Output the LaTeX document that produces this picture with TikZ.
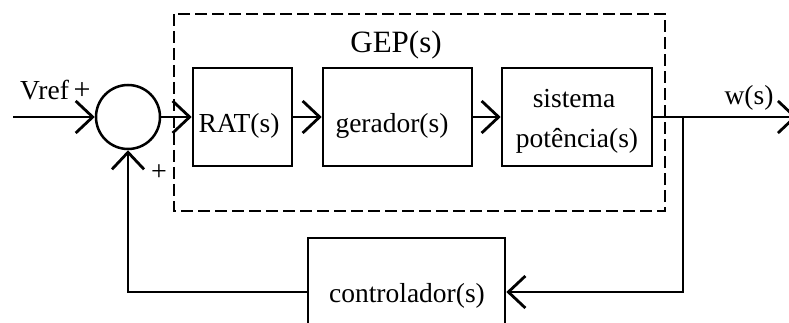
\documentclass[tikz,border=0pt]{standalone}
\usepackage{fontspec}
\setmainfont{Liberation Serif}
\usetikzlibrary{arrows.meta}
\begin{document}
\begin{tikzpicture}[x=1pt,y=-1pt,
  wire/.style={line width=2.5pt},
  arr/.style={wire,-{Straight Barb[length=17pt,width=32pt,line width=2.8pt]}},
  blk/.style={draw,line width=2.6pt,inner sep=0pt},
  gep/.style={draw,line width=1.7pt,dash pattern=on 12pt off 5pt},
  lbl/.style={font=\fontsize{27.5}{32}\selectfont,inner sep=0pt},
  sgn/.style={font=\fontsize{30}{32}\selectfont,inner sep=0pt}]
\clip (0,0) rectangle (789,323);

% summing junction and the three plant blocks
\node[draw,circle,line width=2.5pt,minimum size=64pt,inner sep=0pt] (sum) at (128,117) {};
\node[blk,minimum width=99pt,minimum height=98pt] (rat) at (242.5,117) {};
\node[blk,minimum width=149pt,minimum height=98pt] (ger) at (397.5,117) {};
\node[blk,minimum width=150pt,minimum height=98pt] (sis) at (577,117) {};
\node[blk,minimum width=197pt,minimum height=130pt] (ctl) at (406.5,303) {};

% dashed frame around GEP(s)
\draw[gep] (174,14) rectangle (665,211);

% block texts
\node[lbl,anchor=base] at (239,133) {RAT(s)};
\node[lbl,anchor=base] at (392,133) {gerador(s)};
\node[lbl,anchor=base] at (574,108) {sistema};
\node[lbl,anchor=base] at (577,148) {potência(s)};
\node[lbl,anchor=base] at (407,302) {controlador(s)};
\node[lbl,anchor=base,font=\fontsize{31}{34}\selectfont] at (396,53) {GEP(s)};
\node[lbl,anchor=base west] at (20,100) {Vref};
\node[lbl,anchor=base] at (749,105) {w(s)};
\node[sgn] at (82,91) {+};
\node[sgn,font=\fontsize{28}{30}\selectfont] at (159,173) {+};

% signal path
\coordinate (in) at (13,117);
\coordinate (out) at (797,117);
\coordinate (tap) at (683,117);
\coordinate (fbR) at (683,292);
\coordinate (fbL) at (128,292);
\draw[arr] (in) -- (sum.west);
\draw[arr] (sum.east) -- (rat.west);
\draw[arr] (rat.east) -- (ger.west);
\draw[arr] (ger.east) -- (sis.west);
\draw[arr] (sis.east) -- (out);
\draw[arr] (tap) -- (fbR) -- (fbR -| ctl.east);
\draw[arr] (fbR -| ctl.west) -- (fbL) -- (sum.south);
\end{tikzpicture}
\end{document}
